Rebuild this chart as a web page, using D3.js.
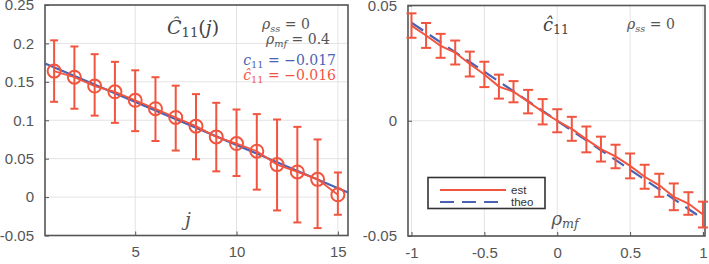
<!DOCTYPE html>
<html>
<head>
<meta charset="utf-8">
<script src="https://cdn.jsdelivr.net/npm/d3@7"></script>
<style>
  body { margin: 0; background: #fff; }
  svg text { font-family: "Liberation Sans", Arial, sans-serif; }
  .math { font-family: "DejaVu Serif", "Liberation Serif", serif; font-style: italic; }
</style>
</head>
<body>
<svg id="bgsvg" width="709" height="264"></svg>
<script>
// ---- left panel data: C11(j) estimate with error bars
const lagJ      = [1, 2, 3, 4, 5, 6, 7, 8, 9, 10, 11, 12, 13, 14, 15]
const estC      = [0.164, 0.156, 0.1445, 0.137, 0.126, 0.115, 0.1036, 0.0923, 0.0783, 0.0697, 0.0597, 0.0423, 0.0327, 0.0231, 0.003]
const estCUpper = [0.204, 0.196, 0.186, 0.176, 0.165, 0.156, 0.145, 0.134, 0.1227, 0.114, 0.108, 0.101, 0.0914, 0.075, 0.032]
const estCLower = [0.124, 0.115, 0.106, 0.0966, 0.0858, 0.073, 0.0606, 0.0492, 0.0335, 0.0274, 0.0097, -0.0174, -0.033, -0.0404, -0.023]
const theoJ     = [0.55, 15.5]
const theoC     = [0.174, 0.006]
const leftXTicks = [5, 10, 15]
const leftYTicks = [-0.05, 0, 0.05, 0.1, 0.15, 0.2, 0.25]

// ---- right panel data: c11 vs rho_mf
const rhoMf    = [-1, -0.9, -0.8, -0.7, -0.6, -0.5, -0.4, -0.3, -0.2, -0.1, 0, 0.1, 0.2, 0.3, 0.4, 0.5, 0.6, 0.7, 0.8, 0.9, 1]
const estc11   = [0.0413, 0.037, 0.0325, 0.0296, 0.0246, 0.0201, 0.0148, 0.0126, 0.0083, 0.0039, 0, -0.0035, -0.0081, -0.0123, -0.0155, -0.0196, -0.0243, -0.028, -0.033, -0.0359, -0.0407]
const estErr   = [0.0053, 0.0054, 0.0052, 0.0052, 0.0054, 0.0055, 0.0052, 0.0046, 0.0051, 0.0055, 0.005, 0.0052, 0.0056, 0.0054, 0.0051, 0.0054, 0.0052, 0.005, 0.0058, 0.0049, 0.0056]
const theoc11  = [0.0425, 0.0383, 0.034, 0.0298, 0.0255, 0.0213, 0.017, 0.0128, 0.0085, 0.0043, 0, -0.0043, -0.0085, -0.0128, -0.017, -0.0213, -0.0255, -0.0298, -0.034, -0.0383, -0.0425]
const rightXTicks = [-1, -0.5, 0, 0.5, 1]
const rightYTicks = [-0.05, 0, 0.05]
const legendLabels = ["est", "theo"]

const RED = "#f2553f", BLUE = "#4a62b3", AXIS = "#555", GRID = "#e3e3e3", LABEL = "#555"

const svg = d3.select("#bgsvg")
// plain hyphen minus, like the original figure
const tickFmt = d => String(d)

function frame(g, x, y, xTicks, yTicks) {
	const [x0, x1] = x.range(), [y0, y1] = y.range()
	// grid
	g.append("g").selectAll("line").data(xTicks).join("line")
		.attr("x1", d => x(d)).attr("x2", d => x(d)).attr("y1", y0).attr("y2", y1)
		.attr("stroke", GRID).attr("stroke-width", 1)
	g.append("g").selectAll("line").data(yTicks).join("line")
		.attr("x1", x0).attr("x2", x1).attr("y1", d => y(d)).attr("y2", d => y(d))
		.attr("stroke", GRID).attr("stroke-width", 1)
	// axes with inward ticks (MATLAB style)
	const ax = g.append("g").attr("transform", `translate(0,${y0})`)
		.call(d3.axisBottom(x).tickValues(xTicks).tickSizeInner(-4).tickSizeOuter(0).tickPadding(11).tickFormat(tickFmt))
	const ay = g.append("g").attr("transform", `translate(${x0},0)`)
		.call(d3.axisLeft(y).tickValues(yTicks).tickSizeInner(-4).tickSizeOuter(0).tickPadding(11).tickFormat(tickFmt))
	for (const a of [ax, ay]) {
		a.select(".domain").remove()
		a.selectAll("line").attr("stroke", AXIS)
		a.selectAll("text").attr("fill", LABEL).style("font-size", "15px")
			.style("font-family", "'Liberation Sans', Arial, sans-serif")
	}
	g.append("rect").attr("x", x0).attr("y", y1).attr("width", x1 - x0).attr("height", y0 - y1)
		.attr("fill", "none").attr("stroke", AXIS).attr("stroke-width", 1.6)
}

function mathText(g, x, y, parts, color, size, anchor) {
	const t = g.append("text").attr("x", x).attr("y", y).attr("class", "math")
		.attr("fill", color).style("font-size", size + "px").attr("text-anchor", anchor || "start")
	parts.forEach(p => {
		const s = t.append("tspan").text(p.t)
		if (p.sub) s.attr("baseline-shift", "-25%").style("font-size", (size * 0.7) + "px")
		if (p.up) s.style("font-style", "normal")
	})
	return t
}

// ================= LEFT PANEL =================
{
	const x = d3.scaleLinear().domain([0.55, 15.5]).range([45, 348])
	const y = d3.scaleLinear().domain([-0.05, 0.25]).range([235.5, 5])
	const g = svg.append("g")
	frame(g, x, y, leftXTicks, leftYTicks)

	const line = d3.line().x(d => x(d[0])).y(d => y(d[1]))
	g.append("path").datum(d3.zip(theoJ, theoC)).attr("d", line)
		.attr("fill", "none").attr("stroke", BLUE).attr("stroke-width", 2.2)
	g.append("path").datum(d3.zip(lagJ, estC)).attr("d", line)
		.attr("fill", "none").attr("stroke", RED).attr("stroke-width", 1.8)

	const bars = g.append("g").attr("stroke", RED).attr("stroke-width", 2).attr("fill", "none")
	lagJ.forEach((j, i) => {
		const cx = x(j)
		bars.append("line").attr("x1", cx).attr("x2", cx).attr("y1", y(estCUpper[i])).attr("y2", y(estCLower[i]))
		bars.append("line").attr("x1", cx - 4).attr("x2", cx + 4).attr("y1", y(estCUpper[i])).attr("y2", y(estCUpper[i]))
		bars.append("line").attr("x1", cx - 4).attr("x2", cx + 4).attr("y1", y(estCLower[i])).attr("y2", y(estCLower[i]))
		bars.append("circle").attr("cx", cx).attr("cy", y(estC[i])).attr("r", 6.5)
	})

	mathText(g, 193, 34, [{t: "Ĉ"}, {t: "11", sub: true, up: true}, {t: "(", up: true}, {t: "j"}, {t: ")", up: true}], "#444", 19, "middle")
	mathText(g, 286, 29, [{t: "ρ"}, {t: "ss", sub: true}, {t: " = 0", up: true}], "#555", 14, "middle")
	mathText(g, 298, 44, [{t: "ρ"}, {t: "mf", sub: true}, {t: " = 0.4", up: true}], "#555", 14, "middle")
	mathText(g, 336, 65, [{t: "c"}, {t: "11", sub: true, up: true}, {t: " = −0.017", up: true}], BLUE, 14, "end")
	mathText(g, 336, 80, [{t: "ĉ"}, {t: "11", sub: true, up: true}, {t: " = −0.016", up: true}], RED, 14, "end")
	mathText(g, 188, 226, [{t: "j"}], "#555", 19, "middle")
}

// ================= RIGHT PANEL =================
{
	const x = d3.scaleLinear().domain([-1.024, 1.014]).range([408, 705])
	const y = d3.scaleLinear().domain([-0.05, 0.05]).range([236, 5.5])
	const g = svg.append("g")
	frame(g, x, y, rightXTicks, rightYTicks)

	const line = d3.line().x(d => x(d[0])).y(d => y(d[1]))
	g.append("path").datum(d3.zip(rhoMf, theoc11)).attr("d", line)
		.attr("fill", "none").attr("stroke", BLUE).attr("stroke-width", 2.2).attr("stroke-dasharray", "14,8")
	g.append("path").datum(d3.zip(rhoMf, estc11)).attr("d", line)
		.attr("fill", "none").attr("stroke", RED).attr("stroke-width", 2)

	const bars = g.append("g").attr("stroke", RED).attr("stroke-width", 2)
	rhoMf.forEach((r, i) => {
		const cx = x(r), yt = y(estc11[i] + estErr[i]), yb = y(estc11[i] - estErr[i])
		bars.append("line").attr("x1", cx).attr("x2", cx).attr("y1", yt).attr("y2", yb)
		bars.append("line").attr("x1", cx - 5).attr("x2", cx + 5).attr("y1", yt).attr("y2", yt)
		bars.append("line").attr("x1", cx - 5).attr("x2", cx + 5).attr("y1", yb).attr("y2", yb)
	})

	mathText(g, 556, 31, [{t: "ĉ"}, {t: "11", sub: true, up: true}], "#444", 18, "middle")
	mathText(g, 651, 29, [{t: "ρ"}, {t: "ss", sub: true}, {t: " = 0", up: true}], "#555", 14, "middle")
	mathText(g, 565, 225, [{t: "ρ"}, {t: "mf", sub: true}], "#555", 18, "middle")

	// legend
	const lg = g.append("g").attr("transform", "translate(428,177.5)")
	lg.append("rect").attr("width", 117).attr("height", 31).attr("fill", "#fff")
		.attr("stroke", "#333").attr("stroke-width", 1.6)
	const styles = [{c: RED, dash: null}, {c: BLUE, dash: "14,8"}]
	legendLabels.forEach((lab, i) => {
		const ly = 12.5 + i * 12
		lg.append("line").attr("x1", 12).attr("x2", 78).attr("y1", ly).attr("y2", ly)
			.attr("stroke", styles[i].c).attr("stroke-width", 2).attr("stroke-dasharray", styles[i].dash)
		lg.append("text").attr("x", 83).attr("y", ly + 4).text(lab)
			.attr("fill", "#333").style("font-size", "11.5px")
	})
}
</script>
</body>
</html>
